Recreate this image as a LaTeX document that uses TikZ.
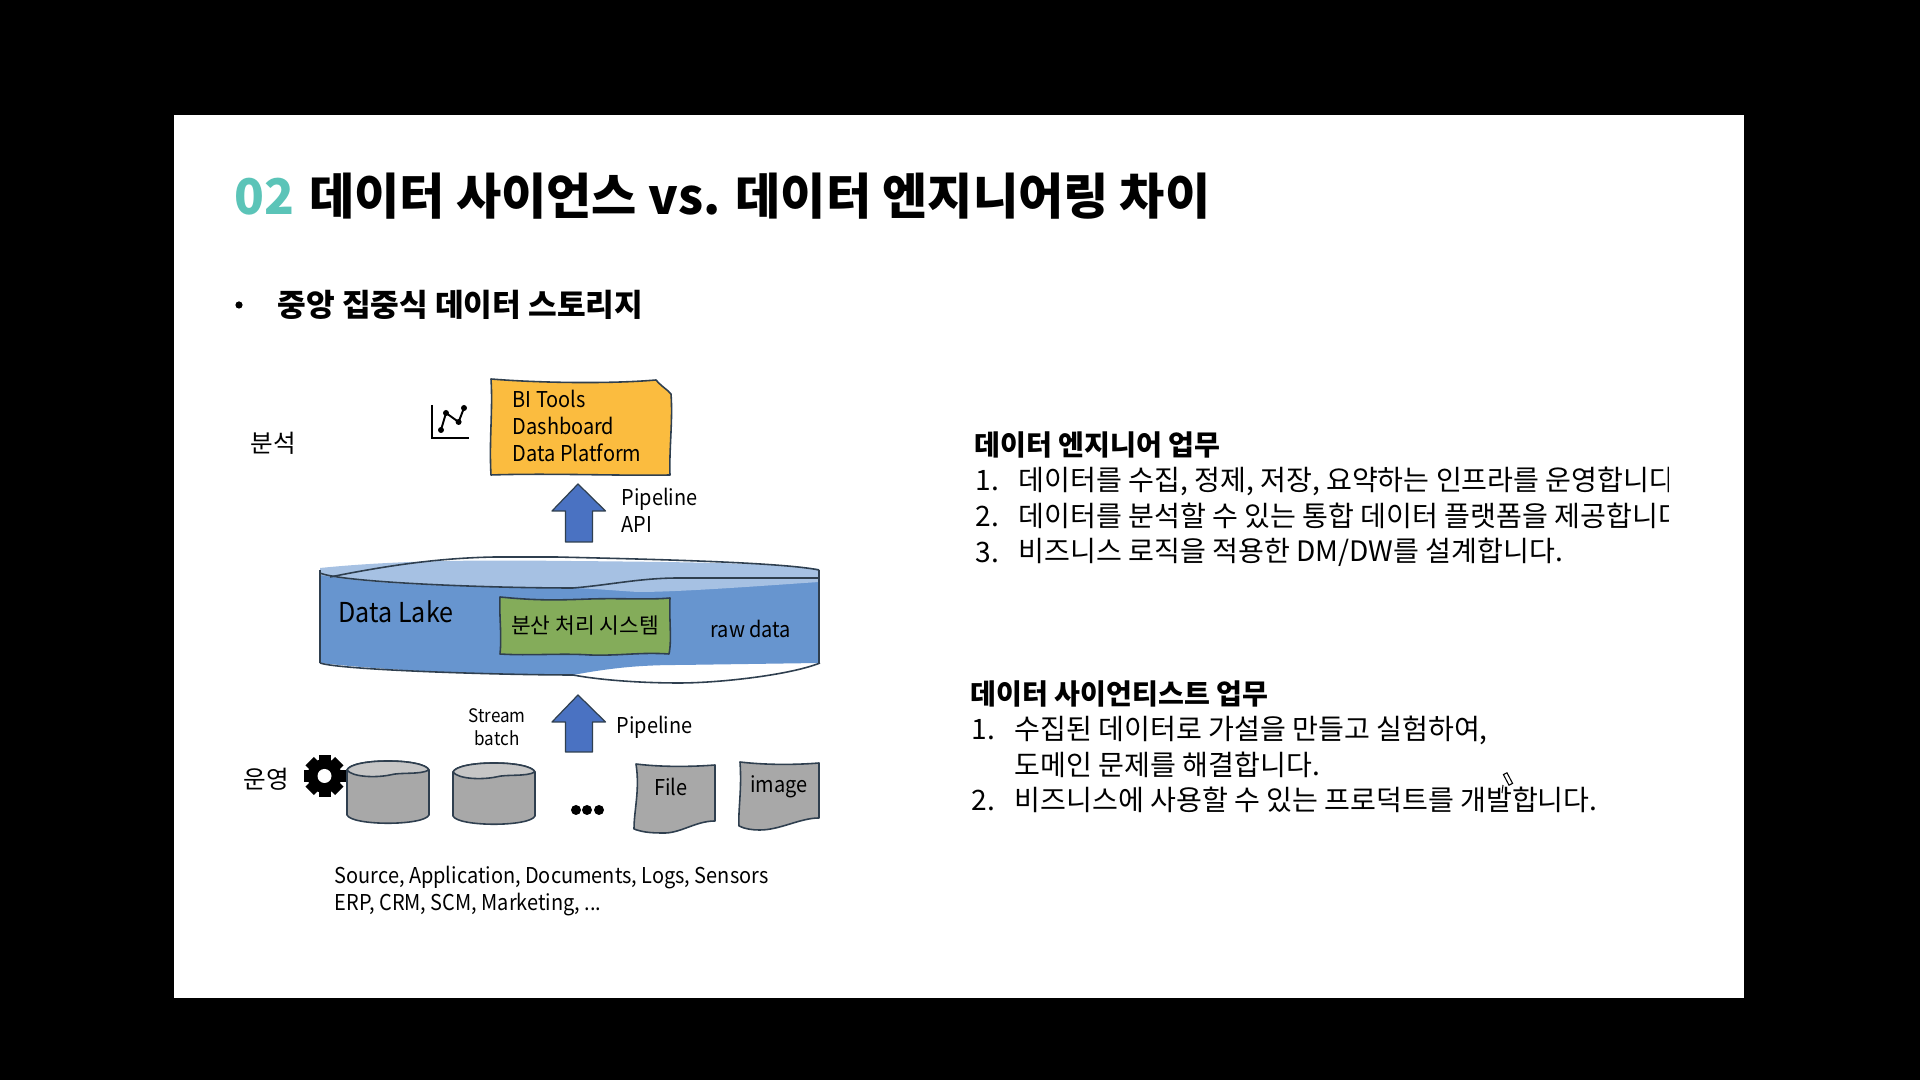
\documentclass[tikz,border=0pt]{standalone}
\usepackage{fontspec}
\setmainfont{Noto Sans CJK KR}
\newfontfamily\dgm[FakeStretch=0.915]{Noto Sans CJK KR}
\definecolor{teal02}{HTML}{5BC4B8}
\definecolor{lakeblue}{HTML}{6795CF}
\definecolor{lakelight}{HTML}{A6C1E3}
\definecolor{edgedark}{HTML}{2F3F4F}
\definecolor{arrowblue}{HTML}{4A72C2}
\definecolor{biyellow}{HTML}{FBBC3F}
\definecolor{sysgreen}{HTML}{84AC5A}
\definecolor{storegray}{HTML}{A8A8A8}
\definecolor{storetop}{HTML}{C6C6C6}
\newcommand{\szT}{\fontsize{13.98}{17}\selectfont}
\newcommand{\szH}{\fontsize{8.0}{10}\selectfont}
\newcommand{\szB}{\fontsize{8.0}{10}\selectfont}
\newcommand{\szD}{\dgm\fontsize{6.2}{8}\selectfont}
\newcommand{\szS}{\dgm\fontsize{5.3}{7}\selectfont}
\tikzset{
  txt/.style={anchor=west,inner sep=0pt,text=black},
  ctxt/.style={anchor=center,inner sep=0pt,text=black},
  sketch/.style={draw=edgedark,line width=0.45pt,line join=round},
  bigarrow/.style={fill=arrowblue,draw=edgedark,line width=0.35pt,line join=round},
}
\begin{document}
\begin{tikzpicture}[x=0.01cm,y=-0.01cm]
\useasboundingbox (0,0) rectangle (1920,1080);
\fill[black] (0,0) rectangle (1920,1080);
\fill[white] (174,115) rectangle (1744,998);

% title
\node[txt] (title) at (234,196) {\szT\bfseries\textcolor{teal02}{02}\kern1pt\ 데이터 사이언스 vs. 데이터 엔지니어링 차이};
\fill[black] (239,305) circle (3.6);
\node[txt] (sub) at (277,305) {\fontsize{8.86}{11}\selectfont\bfseries 중앙 집중식 데이터 스토리지};

% BI box
\draw[sketch,fill=biyellow] (491,379) .. controls (540,383) and (610,384) .. (656,380) .. controls (662,387) and (668,390) .. (671,394)
  .. controls (673,420) and (669,450) .. (670,475) .. controls (620,476) and (550,473) .. (491,475) .. controls (489,440) and (493,410) .. (491,379) -- cycle;
\node[txt] (bi1) at (512,399) {\szD BI Tools};
\node[txt] (bi2) at (512,426) {\szD Dashboard};
\node[txt] (bi3) at (512,453) {\szD Data Platform};

% chart icon
\draw[black,line width=0.75pt] (432,405) -- (432,438) -- (469,438);
\draw[black,line width=0.55pt] (441,430) -- (446,413) -- (458.6,422) -- (464,408);
\foreach \p in {(441,430),(446,413),(458.6,422),(464,408)} \fill[black] \p circle (3);
\node[ctxt] (analysis) at (273,443) {\fontsize{7}{9}\selectfont 분석};

% arrow up
\path[bigarrow] (578,484) -- (605.5,511) -- (592.5,511) -- (592.5,542) -- (565.5,542) -- (565.5,511) -- (552,511) -- cycle;
\node[txt] (pipe1) at (621,499) {\szD Pipeline};
\node[txt] (api) at (621,525) {\szD API};

% lake
\fill[lakeblue] (320,570) -- (320,663) .. controls (400,672) and (500,675) .. (573,675) .. controls (610,668) and (640,665) .. (679,665) -- (819,663) -- (819,570) -- cycle;
\fill[lakelight] (320,568) .. controls (400,560) and (480,560) .. (570,561) .. controls (680,562) and (780,563) .. (819,569) -- (819,582) .. controls (760,586) and (680,592) .. (638,592) .. controls (620,591) and (600,589) .. (573,588) .. controls (480,587) and (380,586) .. (320,575) -- cycle;
\draw[sketch] (330,577) .. controls (390,565) and (440,558) .. (495,557) -- (556,557) .. controls (640,559) and (780,562) .. (819,570);
\draw[sketch] (320,573) .. controls (340,582) and (480,588) .. (573,588) .. controls (610,585) and (640,578) .. (679,578) -- (819,578);
\draw[sketch] (320,570) -- (320,663);
\draw[sketch] (819,570) -- (819,663);
\draw[sketch] (320,663) .. controls (340,670) and (500,675) .. (573,675) .. controls (600,680) and (640,683) .. (679,683) .. controls (720,683) and (790,675) .. (820,663);
\draw[sketch,fill=sysgreen] (500,597) .. controls (540,601) and (560,600) .. (590,599) .. controls (620,598) and (650,600) .. (670,598)
  .. controls (669,620) and (672,640) .. (669,654) .. controls (640,652) and (620,656) .. (590,655) .. controls (560,653) and (530,656) .. (500,654) .. controls (502,635) and (499,615) .. (500,597) -- cycle;
\node[txt] (lake) at (338,612) {\dgm\fontsize{7.8}{10}\selectfont Data Lake};
\node[ctxt] (sys) at (585,625) {\fontsize{6.1}{8}\selectfont 분산 처리 시스템};
\node[txt] (raw) at (710,629) {\szD raw data};

% arrow 2
\path[bigarrow] (578,695) -- (605.5,722) -- (592.5,722) -- (592.5,752) -- (565.5,752) -- (565.5,722) -- (552,722) -- cycle;
\node[ctxt] (stream) at (497,716) {\szS Stream};
\node[ctxt] (batch) at (497,738) {\szS batch};
\node[txt] (pipe2) at (616,727) {\szD Pipeline};

% sources
\node[ctxt] (ops) at (266,779) {\fontsize{7}{9}\selectfont 운영};
\fill[black] (324.5,776) circle (17);
\foreach \a in {0,45,...,315}
  \fill[black,rotate around={\a:(324.5,776)}] (318.5,755) rectangle (330.5,765);
\fill[white] (324.5,776) circle (7);

\path[sketch,fill=storegray] (347,770) -- (347,815) .. controls (352,826) and (424,826) .. (429,815) -- (429,770) .. controls (424,758) and (352,758) .. (347,770) -- cycle;
\path[sketch,fill=storetop] (347,770) .. controls (352,758) and (424,758) .. (429,770) .. controls (420,775) and (400,772) .. (390,775) .. controls (375,778) and (352,777) .. (347,770) -- cycle;
\path[sketch,fill=storegray] (453,772) -- (453,816) .. controls (458,827) and (530,827) .. (535,816) -- (535,772) .. controls (530,760) and (458,760) .. (453,772) -- cycle;
\path[sketch,fill=storetop] (453,772) .. controls (458,760) and (530,760) .. (535,772) .. controls (526,777) and (506,774) .. (496,777) .. controls (481,780) and (458,779) .. (453,772) -- cycle;

\foreach \x in {576,587,599} \fill[black] (\x,810) circle (5);

\path[sketch,fill=storegray] (636,764) .. controls (660,767) and (690,767) .. (715,765) -- (715,821) .. controls (695,821) and (680,834) .. (662,833) .. controls (650,833) and (642,832) .. (634,829) .. controls (634,810) and (640,790) .. (636,764) -- cycle;
\path[sketch,fill=storegray] (740,762) .. controls (765,765) and (795,765) .. (819,763) -- (819,818) .. controls (800,818) and (780,830) .. (760,830) .. controls (752,830) and (745,829) .. (739,826) .. controls (738,810) and (742,790) .. (740,762) -- cycle;
\node[ctxt] (file) at (671,787) {\szD File};
\node[ctxt] (image) at (779,787) {\szD image};

\node[txt] (src1) at (334,878) {\szD Source, Application, Documents, Logs, Sensors};
\node[txt] (src2) at (334,905) {\szD ERP, CRM, SCM, Marketing, ...};

% right text
\begin{scope}
\clip (900,400) rectangle (1668,900);
\node[txt] (h1) at (974,445) {\szH\bfseries 데이터 엔지니어 업무};
\node[txt] (a1) at (975,481) {\szB 1.};
\node[txt] (a1t) at (1018,481) {\szB 데이터를 수집, 정제, 저장, 요약하는 인프라를 운영합니다.};
\node[txt] (a2) at (975,516) {\szB 2.};
\node[txt] (a2t) at (1018,516) {\szB 데이터를 분석할 수 있는 통합 데이터 플랫폼을 제공합니다.};
\node[txt] (a3) at (975,552) {\szB 3.};
\node[txt] (a3t) at (1018,552) {\szB 비즈니스 로직을 적용한 DM/DW를 설계합니다.};
\node[txt] (h2) at (970,694) {\szH\bfseries 데이터 사이언티스트 업무};
\node[txt] (b1) at (971,730) {\szB 1.};
\node[txt] (b1t) at (1014,730) {\szB 수집된 데이터로 가설을 만들고 실험하여,};
\node[txt] (b1u) at (1014,765) {\szB 도메인 문제를 해결합니다.};
\node[txt] (b2) at (971,800) {\szB 2.};
\node[txt] (b2t) at (1014,800) {\szB 비즈니스에 사용할 수 있는 프로덕트를 개발합니다.};
\end{scope}

% pen cursor
\draw[black,line width=0.3pt,fill=white,rotate around={28:(1508,779)}] (1506,773) rectangle (1510,785);
\draw[black,line width=0.3pt] (1503,785) -- (1502,793);
\end{tikzpicture}
\end{document}
